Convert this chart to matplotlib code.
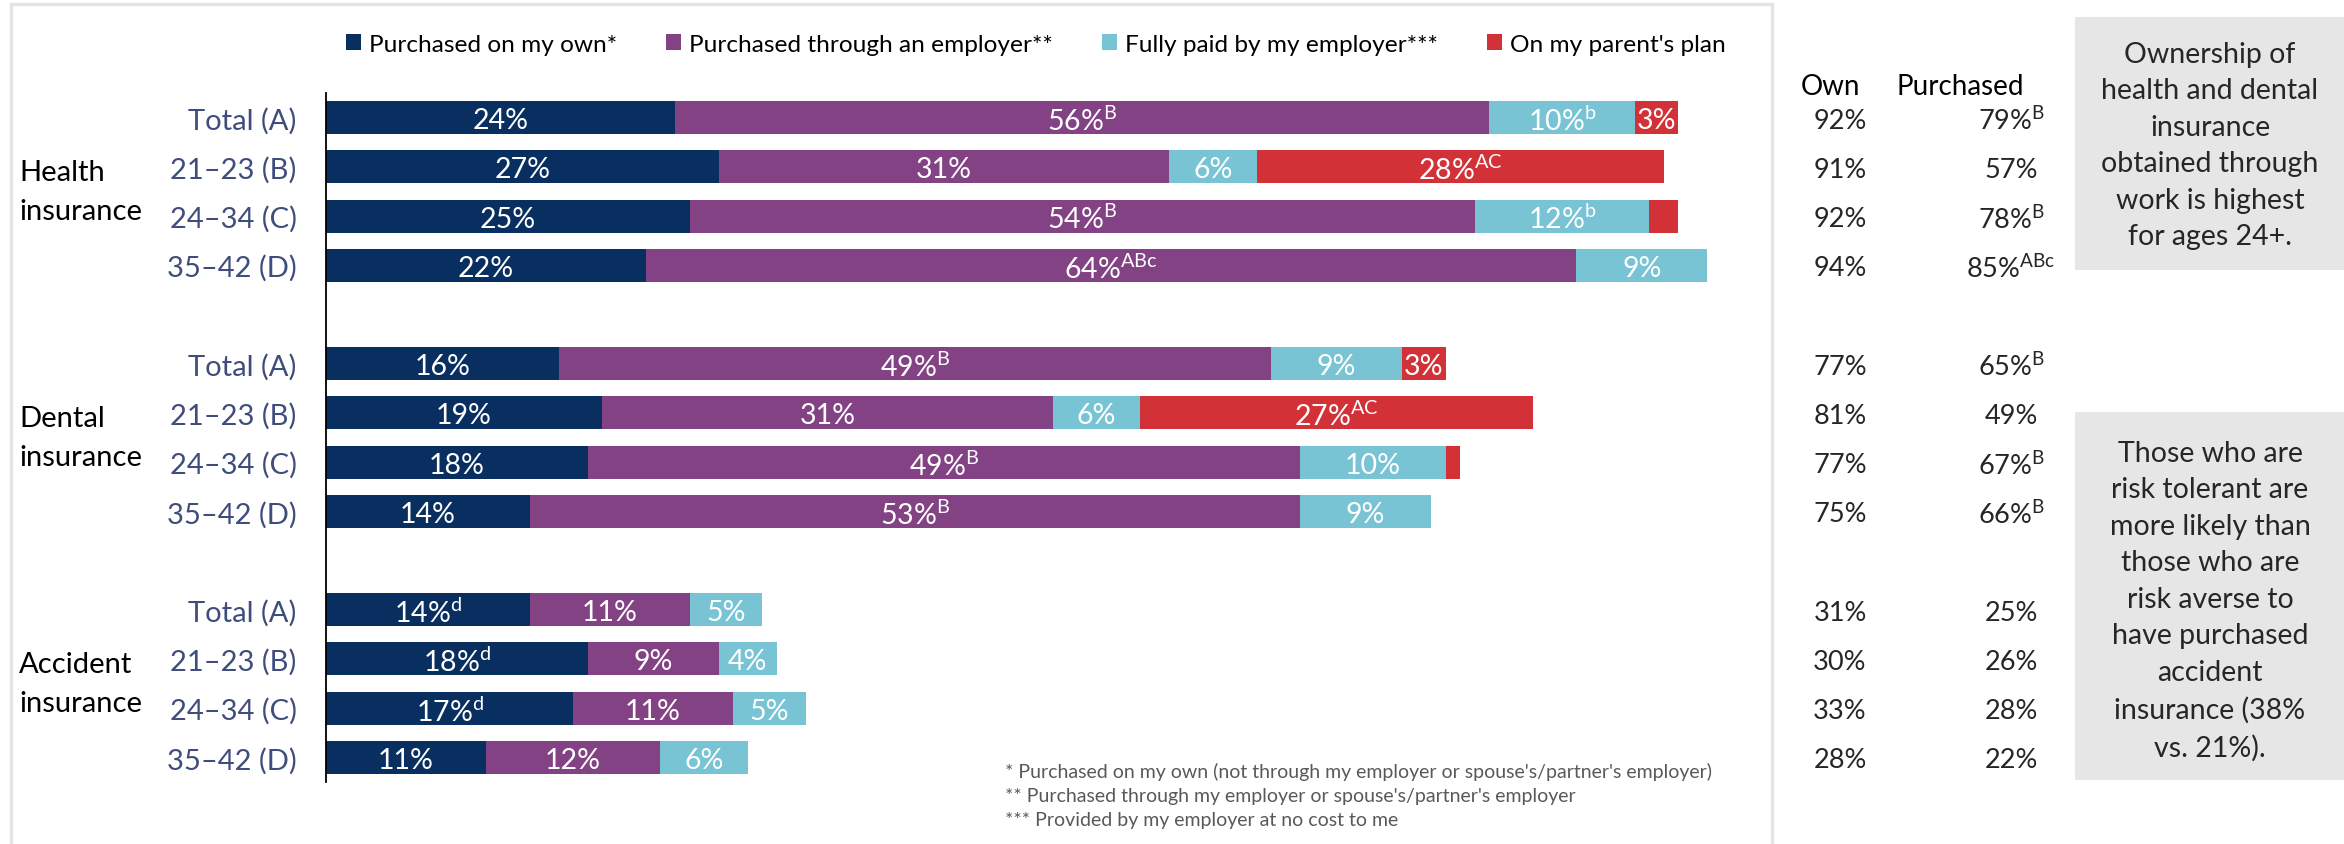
import matplotlib as mpl
mpl.use('Agg')
import matplotlib.pyplot as plt
import matplotlib.patches as patches
import matplotlib.transforms as transforms
import numpy as np

mpl.rcParams['font.family'] = 'Lato'
mpl.rcParams['font.weight'] = 'normal'
mpl.rcParams['mathtext.fontset'] = 'custom'
mpl.rcParams['mathtext.rm'] = 'Lato'

# survey data
groups = ["Health\ninsurance", "Dental\ninsurance", "Accident\ninsurance"]
ages = ["Total (A)", "21\u201323 (B)", "24\u201334 (C)", "35\u201342 (D)"]
series = ["Purchased on my own*", "Purchased through an employer**",
          "Fully paid by my employer***", "On my parent's plan"]
colors = ["#082f5f", "#824283", "#78c4d4", "#d23138"]

own_pay = [24, 27, 25, 22, 16, 19, 18, 14, 14, 18, 17, 11]
employer = [56, 31, 54, 64, 49, 31, 49, 53, 11, 9, 11, 12]
fully_paid = [10, 6, 12, 9, 9, 6, 10, 9, 5, 4, 5, 6]
parents = [3, 28, 2, 0, 3, 27, 1, 0, 0, 0, 0, 0]

# significance letters shown next to each segment value
sup_own = ["", "", "", "", "", "", "", "", "d", "d", "d", ""]
sup_emp = ["B", "", "B", "ABc", "B", "", "B", "B", "", "", "", ""]
sup_full = ["b", "", "b", "", "", "", "", "", "", "", "", ""]
sup_par = ["", "AC", "", "", "", "AC", "", "", "", "", "", ""]
show_par = [True, True, False, False, True, True, False, False, False, False, False, False]

own_col = ["92%", "91%", "92%", "94%", "77%", "81%", "77%", "75%", "31%", "30%", "33%", "28%"]
purchased_col = ["79%", "57%", "78%", "85%", "65%", "49%", "67%", "66%", "25%", "26%", "28%", "22%"]
purchased_sup = ["B", "", "B", "ABc", "B", "", "B", "B", "", "", "", ""]

note_top = ["Ownership of", "health and dental", "insurance", "obtained through",
            "work is highest", "for ages 24+."]
note_bottom = ["Those who are", "risk tolerant are", "more likely than", "those who are",
               "risk averse to", "have purchased", "accident", "insurance (38%",
               "vs. 21%)."]
footnotes = ["* Purchased on my own (not through my employer or spouse's/partner's employer)",
             "** Purchased through my employer or spouse's/partner's employer",
             "*** Provided by my employer at no cost to me"]

def fmt(v, s):
    if s:
        return "%d%%$^{\\mathrm{%s}}$" % (v, s)
    return "%d%%" % v

fig = plt.figure(figsize=(23.44, 8.45), dpi=100)
fig.patch.set_facecolor("white")

# outer frame around the chart part
fig.add_artist(patches.Rectangle((11/2344, -0.05), (1772-11)/2344, 1.05 - 5/845,
                                 transform=fig.transFigure, fill=False,
                                 edgecolor="#e4e4e4", lw=2.5))

ax = fig.add_axes([326/2344, 62/845, 1454/2344, (783-94)/845])

ypos = np.array([g*5 + k for g in range(3) for k in range(4)], dtype=float)

data = [own_pay, employer, fully_paid, parents]
sups = [sup_own, sup_emp, sup_full, sup_par]
left = np.zeros(12)
handles = []
for j in range(4):
    vals = np.array(data[j], dtype=float)
    h = ax.barh(ypos, vals, left=left, height=0.67, color=colors[j], label=series[j])
    handles.append(h)
    for i in range(12):
        if vals[i] == 0:
            continue
        if j == 3 and not show_par[i]:
            continue
        ax.text(left[i] + vals[i]/2, ypos[i], fmt(data[j][i], sups[j][i]),
                ha="center", va="center_baseline", color="white", fontsize=20.5)
    left = left + vals

ax.set_xlim(0, 100)
ax.set_ylim(13.5, -0.5)
for s in ["top", "right", "bottom"]:
    ax.spines[s].set_visible(False)
ax.spines["left"].set_linewidth(1.3)
ax.set_xticks([])
ax.set_yticks(ypos)
ax.set_yticklabels(ages*3, fontsize=21, color="#3f4d7c")
ax.tick_params(axis="y", length=0, pad=21)

# group names on the far left
tr = transforms.blended_transform_factory(fig.transFigure, ax.transData)
for g in range(3):
    ax.text(19/2344, g*5 + 1.5, groups[g], transform=tr, ha="left", va="center",
            fontsize=21, color="black", linespacing=1.62)

# Own / Purchased columns
fig.text(1830/2344, 1 - 87/845, "Own", ha="center", va="center", fontsize=20, color="black")
fig.text(1960/2344, 1 - 87/845, "Purchased", ha="center", va="center", fontsize=20, color="black")
for i in range(12):
    ax.text(1840/2344, ypos[i], own_col[i], transform=tr, ha="center",
            va="center_baseline", fontsize=19.5, color="#262626")
    txt = purchased_col[i]
    if purchased_sup[i]:
        txt = txt + "$^{\\mathrm{%s}}$" % purchased_sup[i]
    ax.text(2011/2344, ypos[i], txt, transform=tr, ha="center",
            va="center_baseline", fontsize=19.5, color="#262626")

# gray note boxes
fig.add_artist(patches.Rectangle((2075/2344, 1 - 271/845), 0.2, (271-18)/845,
                                 transform=fig.transFigure, facecolor="#e6e6e6",
                                 edgecolor="none"))
fig.add_artist(patches.Rectangle((2075/2344, 1 - 781/845), 0.2, (781-413)/845,
                                 transform=fig.transFigure, facecolor="#e6e6e6",
                                 edgecolor="none"))
fig.text(2210/2344, 1 - 146/845, "\n".join(note_top), ha="center", va="center",
         fontsize=20.5, color="#262626", linespacing=1.5)
fig.text(2210/2344, 1 - 601/845, "\n".join(note_bottom), ha="center", va="center",
         fontsize=20.5, color="#262626", linespacing=1.5)

# footnotes
for k, line in enumerate(footnotes):
    fig.text(1005/2344, 1 - (772 + 24.5*k)/845, line, ha="left", va="center",
             fontsize=14, color="#595959")

fig.legend(handles=handles, labels=series, ncol=4, loc="center",
           bbox_to_anchor=(1036/2344, 1 - 45/845), frameon=False, fontsize=17.6,
           handlelength=0.6, handleheight=0.6, handletextpad=0.35, columnspacing=2.0)

fig.savefig("out.png", dpi=100, facecolor="white")
